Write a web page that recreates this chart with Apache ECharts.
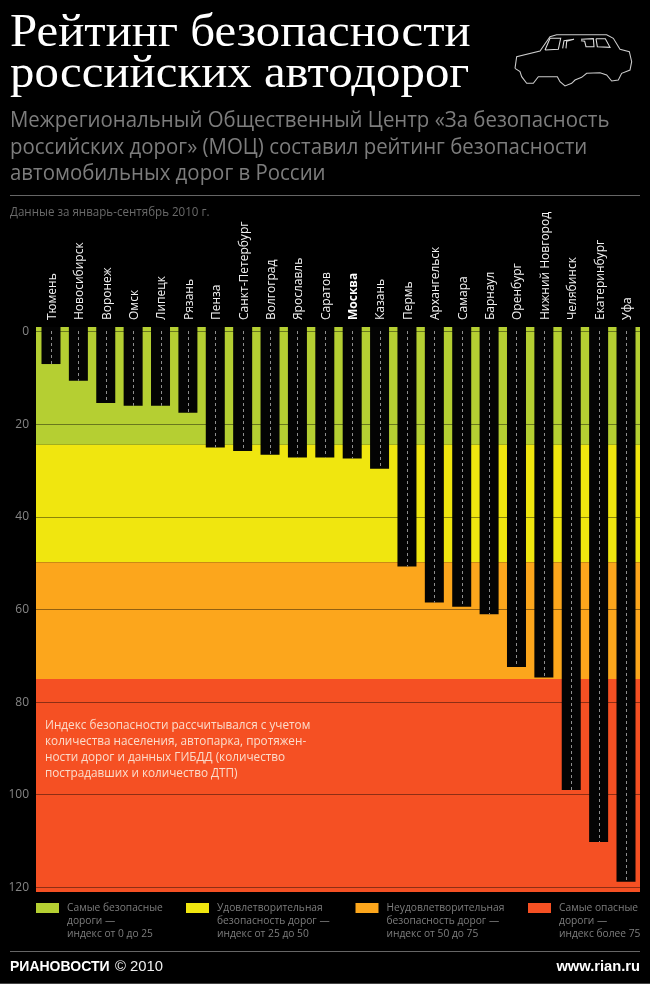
<!DOCTYPE html>
<html><head><meta charset="utf-8">
<style>html,body{margin:0;padding:0;background:#000}#c{width:650px;height:984px}</style>
<script src="https://cdn.jsdelivr.net/npm/echarts@6/dist/echarts.min.js"></script>
</head><body><div id="c"></div>
<script>
const categories = ['Тюмень','Новосибирск','Воронеж','Омск','Липецк','Рязань','Пенза','Санкт-Петербург','Волгоград','Ярославль','Саратов','Москва','Казань','Пермь','Архангельск','Самара','Барнаул','Оренбург','Нижний Новгород','Челябинск','Екатеринбург','Уфа'];
const values = [7.0,10.6,15.4,16.0,16.0,17.5,25.0,25.8,26.6,27.2,27.2,27.4,29.6,50.7,58.5,59.4,61.0,72.4,74.7,99.0,110.2,118.8];
const bandEdges = [-1,24.4,49.8,75.0,121];
const bandColors = ['#b5cf32','#f0e60f','#fca61c','#f55023'];
const yTicks = [0,20,40,60,80,100,120];
const legendTexts = [
  ['Самые безопасные','дороги —','индекс от 0 до 25'],
  ['Удовлетворительная','безопасность дорог —','индекс от 25 до 50'],
  ['Неудовлетворительная','безопасность дорог —','индекс от 50 до 75'],
  ['Самые опасные','дороги —','индекс более 75']
];
const noteLines = ['Индекс безопасности рассчитывался с учетом','количества населения, автопарка, протяжен-','ности дорог и данных ГИБДД (количество','пострадавших и количество ДТП)'];
const titleLines = ['Рейтинг безопасности','российских автодорог'];
const subLines = ['Межрегиональный Общественный Центр «За безопасность','российских дорог» (МОЦ) составил рейтинг безопасности','автомобильных дорог в России'];

const body = '"Open Sans"';
function txt(x,y,s,o){o=o||{};return {type:'text',x:x,y:y,scaleX:o.sx||1,z:20,silent:true,style:{
  text:s,fill:o.c||'#fff',font:(o.w||'normal')+' '+(o.s||12)+'px '+(o.f||body),textAlign:o.a||'left',textVerticalAlign:'middle'}};}
function hline(x1,x2,y,c){return {type:'line',z:20,silent:true,shape:{x1:x1,y1:y,x2:x2,y2:y},style:{stroke:c,lineWidth:1}};}

const g = [];
titleLines.forEach((t,i)=>g.push(txt(10,[33.5,74.5][i],t,{s:46,f:'"Liberation Serif"',sx:1.062})));
subLines.forEach((t,i)=>g.push(txt(10,[121,148,174][i],t,{s:21,c:'#7d7d7d',sx:0.972})));
g.push(hline(10,640,195.5,'#666'));
g.push(txt(10,213,'Данные за январь-сентябрь 2010 г.',{s:12,c:'#6a6a6a',sx:0.965}));
noteLines.forEach((t,i)=>g.push(txt(45,[725,741,757,773][i],t,{s:12.5,c:'#fbdccb',sx:0.94})));
[36,186,355.5,528].forEach((x,i)=>{
  g.push({type:'rect',z:20,silent:true,shape:{x:x,y:903,width:23,height:10},style:{fill:bandColors[i]}});
  legendTexts[i].forEach((t,j)=>g.push(txt(x+31,[907.5,921,934][j],t,{s:11,c:'#7d7d7d',sx:0.93})));
});
g.push(hline(10,640,951.5,'#666'));
g.push(txt(10,967.5,'РИАНОВОСТИ',{s:14,w:'bold',f:'"Liberation Sans"',sx:1.0}));
g.push(txt(115,967.5,'© 2010',{s:14,f:'"Liberation Sans"',c:'#eee',sx:1.06}));
g.push(txt(640,967.5,'www.rian.ru',{s:14,w:'bold',f:'"Liberation Sans"',a:'right',sx:1.05}));
g.push(hline(0,650,983.5,'#444'));

// car icon (decorative outline)
const carParts = [
 [[45,145],[50,110],[120,93],[150,50],[170,44],[320,44],[340,55],[360,88],[388,95],[395,125],[390,150],[365,160],[355,180],[335,183],[320,165],[300,158],[260,160],[245,172],[225,180],[215,190],[195,198],[180,185],[172,170],[115,170],[100,190],[80,190],[65,170],[60,155],[45,145]],
 [[135,90],[150,55],[182,55],[175,88],[135,90]],
 [[188,85],[192,62],[222,58],[200,64],[198,85]],
 [[243,58],[280,56],[282,80],[258,80],[254,64],[243,62]],
 [[288,56],[316,56],[330,82],[292,80],[288,56]]
];
carParts.forEach((p,i)=>g.push({type:'polyline',x:500,y:20,scaleX:1/3,scaleY:1/3,z:20,silent:true,
  shape:{points:p},style:{stroke:i?'#ddd':'#ccc',lineWidth:3.2,fill:null}}));

const chart = echarts.init(document.getElementById('c'),null,{renderer:'canvas'});
chart.setOption({
  backgroundColor:'#000',animation:false,
  grid:[{left:36,width:604,top:327,height:565},{left:37.3,width:602.4,top:327,height:565}],
  xAxis:[
    {gridIndex:0,type:'value',min:0,max:1,show:false},
    {gridIndex:1,type:'category',position:'top',data:categories,
     axisLine:{show:false},axisTick:{show:false},splitLine:{show:false},
     axisLabel:{interval:0,rotate:90,margin:7,color:'#f2f2f2',fontSize:12,fontFamily:body,padding:[3,0,0,0],
       formatter:v=>v==='Москва'?'{b|'+v+'}':v,
       rich:{b:{fontWeight:'bold',color:'#fff',fontSize:12,fontFamily:body}}}}
  ],
  yAxis:[
    {gridIndex:0,type:'value',inverse:true,min:-1,max:121,z:3,
     axisLine:{show:false},
     axisTick:{show:false,customValues:yTicks},
     axisLabel:{customValues:yTicks,margin:7,color:'#858585',fontSize:12,fontFamily:body},
     splitLine:{show:true,lineStyle:{color:'rgba(0,0,0,0.42)',width:1}}},
    {gridIndex:1,type:'value',inverse:true,min:-1,max:121,show:false,splitLine:{show:false}}
  ],
  series:[
    {type:'custom',name:'bands',xAxisIndex:0,yAxisIndex:0,z:1,silent:true,
     data:bandColors.map((c,i)=>[bandEdges[i],bandEdges[i+1]]),
     encode:{y:[0,1]},
     renderItem:(params,api)=>{
       const a=api.coord([0,api.value(0)]),b=api.coord([1,api.value(1)]);
       return {type:'rect',shape:{x:a[0],y:a[1],width:b[0]-a[0],height:b[1]-a[1]},
         style:{fill:bandColors[params.dataIndex]}};
     }},
    {type:'custom',name:'Индекс',xAxisIndex:1,yAxisIndex:1,z:4,silent:true,
     data:values.map((v,i)=>[i,v]),
     encode:{x:0,y:1},
     renderItem:(params,api)=>{
       const i=api.value(0),v=api.value(1);
       const top=api.coord([i,-1]),bot=api.coord([i,v]);
       const w=19,cx=top[0];
       return {type:'group',children:[
         {type:'rect',shape:{x:cx-w/2,y:top[1],width:w,height:bot[1]-top[1]},style:{fill:'#040404'}},
         {type:'line',shape:{x1:Math.round(cx)+.5,y1:top[1]+4,x2:Math.round(cx)+.5,y2:bot[1]},
          style:{stroke:'#8e8e8e',lineWidth:1,lineDash:[3,3]}}
       ]};
     }}
  ],
  graphic:g
});
</script></body></html>
